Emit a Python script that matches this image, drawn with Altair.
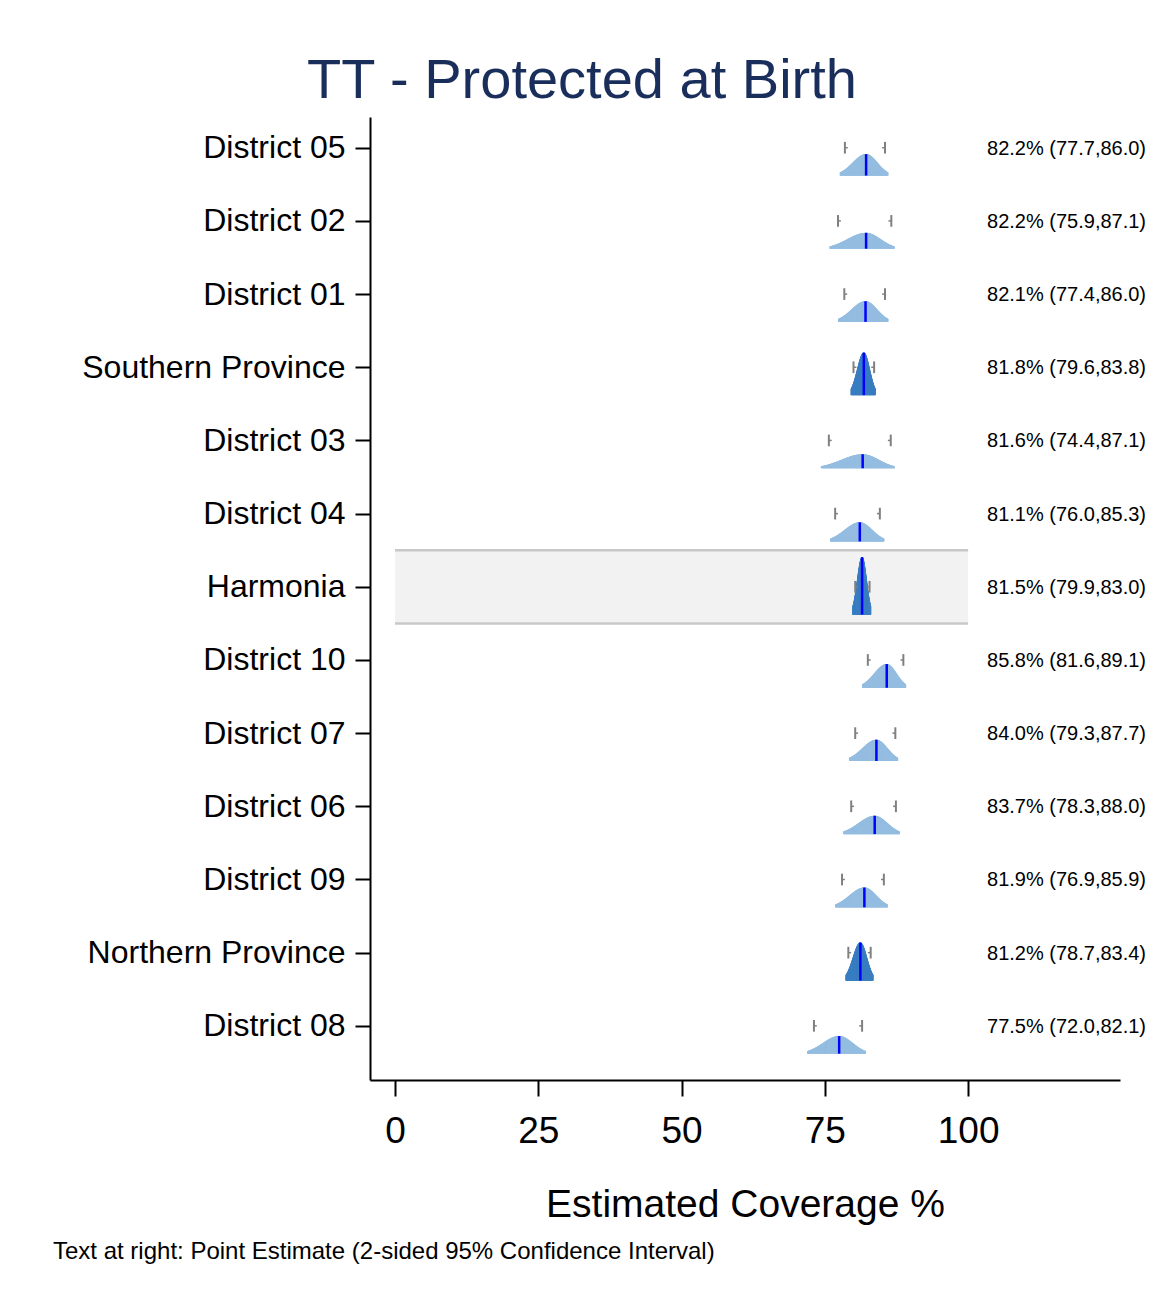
import altair as alt
import pandas as pd

names = ["District 05", "District 02", "District 01", "Southern Province", "District 03",
         "District 04", "Harmonia", "District 10", "District 07", "District 06",
         "District 09", "Northern Province", "District 08"]
kinds = ["d", "d", "d", "p", "d", "d", "p", "d", "d", "d", "d", "p", "d"]
est = [82.2, 82.2, 82.1, 81.8, 81.6, 81.1, 81.5, 85.8, 84.0, 83.7, 81.9, 81.2, 77.5]
ci_lo = [77.7, 75.9, 77.4, 79.6, 74.4, 76.0, 79.9, 81.6, 79.3, 78.3, 76.9, 78.7, 72.0]
ci_hi = [86.0, 87.1, 86.0, 83.8, 87.1, 85.3, 83.0, 89.1, 87.7, 88.0, 85.9, 83.4, 82.1]
tick_lo = [78.5, 77.3, 78.4, 80.0, 75.7, 76.8, 80.3, 82.5, 80.3, 79.6, 78.0, 79.1, 73.1]
tick_hi = [85.5, 86.6, 85.5, 83.6, 86.5, 84.6, 82.8, 88.7, 87.3, 87.4, 85.3, 83.0, 81.5]
x_ticks = [0, 25, 50, 75, 100]
highlight = "Harmonia"

FONT = "Liberation Sans"
K = 2.43  # area constant (row units x percent)

df = pd.DataFrame({
    "name": names, "kind": kinds, "row": list(range(len(names))),
    "est": est, "lo": ci_lo, "hi": ci_hi, "tlo": tick_lo, "thi": tick_hi,
})
df["label"] = [f"{e:.1f}% ({l:.1f},{h:.1f})" for e, l, h in zip(est, ci_lo, ci_hi)]

XDOM = [-4.36, 126.5]
YDOM = [-0.42, 12.74]
label_arr = "[" + ",".join(f"'{n}'" for n in names) + "]"


def xenc(field, **kw):
    return alt.X(field, type="quantitative",
                 scale=alt.Scale(domain=XDOM, nice=False, zero=False),
                 axis=alt.Axis(values=x_ticks, title="Estimated Coverage %", grid=False,
                               tickSize=16, labelPadding=17, labelFontSize=37,
                               titleFontSize=39, titlePadding=36, titleFontWeight="normal",
                               labelFont=FONT, titleFont=FONT, labelColor="black",
                               titleColor="black", domainColor="black", tickColor="black",
                               domainWidth=2, tickWidth=2), **kw)


def yenc(field, **kw):
    return alt.Y(field, type="quantitative",
                 scale=alt.Scale(domain=YDOM, nice=False, zero=False, reverse=True),
                 axis=alt.Axis(values=list(range(len(names))), title=None, grid=False,
                               labelExpr=label_arr + "[datum.value]", labelLimit=500,
                               tickSize=15, labelPadding=10, labelFontSize=32,
                               labelFont=FONT, labelColor="black", domainColor="black",
                               tickColor="black", domainWidth=2, tickWidth=2), **kw)


hi_row = names.index(highlight)
band_df = pd.DataFrame({"x0": [0], "x1": [100], "y0": [hi_row - 0.5], "y1": [hi_row + 0.5]})
band = alt.Chart(band_df).mark_rect(color="#f2f2f2").encode(
    x=xenc("x0"), x2="x1", y=yenc("y0"), y2="y1")
band_top = alt.Chart(band_df).mark_rule(color="#c8c8c8", strokeWidth=2.5).encode(
    x=xenc("x0"), x2="x1", y=yenc("y0"))
band_bot = alt.Chart(band_df).mark_rule(color="#c8c8c8", strokeWidth=2.5).encode(
    x=xenc("x0"), x2="x1", y=yenc("y1"))

base = alt.Chart(df)

area = (base
        .transform_calculate(seq="sequence(0, 121)")
        .transform_flatten(["seq"])
        .transform_calculate(xv="datum.lo + (datum.hi - datum.lo) * datum.seq / 120")
        .transform_calculate(sd="datum.xv < datum.est ? (datum.est - datum.lo) / 1.96 : (datum.hi - datum.est) / 1.96")
        .transform_calculate(z="(datum.xv - datum.est) / datum.sd")
        .transform_calculate(ybase="datum.row + 0.38")
        .transform_calculate(ytop=f"datum.ybase - {K} / (datum.hi - datum.lo) * exp(-0.5 * datum.z * datum.z)")
        .mark_area(strokeWidth=1)
        .encode(x=xenc("xv"), y=yenc("ytop"), y2="ybase",
                detail="name:N", order="seq:Q",
                color=alt.Color("kind:N", scale=alt.Scale(domain=["d", "p"], range=["#a5c9e5", "#3a7fc0"]), legend=None),
                stroke=alt.Stroke("kind:N", scale=alt.Scale(domain=["d", "p"], range=["#94bde0", "#3a7fc0"]), legend=None)))

est_line = (base
            .transform_calculate(ybase="datum.row + 0.38")
            .transform_calculate(ytop=f"datum.ybase - {K} / (datum.hi - datum.lo)")
            .mark_rule(color="#0000ff", strokeWidth=2.5)
            .encode(x=xenc("est"), y=yenc("ybase"), y2="ytop"))

tick_v = (base
          .transform_fold(["tlo", "thi"], as_=["side", "tx"])
          .transform_calculate(ya="datum.row - 0.08", yb="datum.row + 0.08")
          .mark_rule(color="#808080", strokeWidth=2)
          .encode(x=xenc("tx"), y=yenc("ya"), y2="yb"))

stub_l = (base.transform_calculate(x2v="datum.tlo + 0.5")
          .mark_rule(color="#808080", strokeWidth=1.5)
          .encode(x=xenc("tlo"), x2="x2v", y=yenc("row")))
stub_r = (base.transform_calculate(x2v="datum.thi - 0.5")
          .mark_rule(color="#808080", strokeWidth=1.5)
          .encode(x=xenc("thi"), x2="x2v", y=yenc("row")))

labels = (base.transform_calculate(tx="103.3")
          .mark_text(align="left", baseline="middle", fontSize=20, font=FONT, color="black", dy=1)
          .encode(x=xenc("tx"), y=yenc("row"), text="label:N"))

title = alt.Chart(pd.DataFrame({"t": ["TT - Protected at Birth"]})).mark_text(
    align="center", baseline="alphabetic", fontSize=56, font=FONT, color="#1a2e5c"
).encode(x=alt.value(212), y=alt.value(-19), text="t:N")

note = alt.Chart(pd.DataFrame({"t": ["Text at right: Point Estimate (2-sided 95% Confidence Interval)"]})).mark_text(
    align="left", baseline="alphabetic", fontSize=24, font=FONT, color="black"
).encode(x=alt.value(-317), y=alt.value(1142), text="t:N")

chart = alt.layer(band, band_top, band_bot, area, est_line, tick_v, stub_l, stub_r, labels, title, note).properties(
    width=750, height=963,
    autosize=alt.AutoSizeParams(type="none"),
    padding={"left": 362, "top": 109, "right": 26, "bottom": 190},
).configure(background="white", view=alt.ViewConfig(strokeWidth=0, stroke="transparent"))

chart.save("out.html", embed_options={"renderer": "svg", "actions": False})
